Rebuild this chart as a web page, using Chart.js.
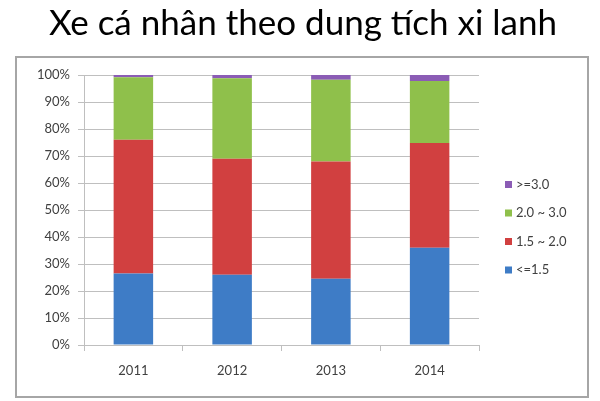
<!DOCTYPE html>
<html>
<head>
<meta charset="utf-8">
<script src="https://cdn.jsdelivr.net/npm/chart.js@4.4.0/dist/chart.umd.min.js"></script>
<style>
  html, body { margin: 0; padding: 0; background: #ffffff; }
  #wrap { width: 600px; height: 401px; position: relative; }
  #title {
    position: absolute; left: 0; top: 0px; width: 606px;
    text-align: center; font-family: Lato, "Open Sans", sans-serif;
    font-size: 35px; line-height: 42px; color: #000000; white-space: nowrap;
  }
  canvas { position: absolute; left: 0; top: 0; }
</style>
</head>
<body>
<div id="wrap"><canvas id="c" width="600" height="401"></canvas><div id="title"></div></div>
<script>
const titleText = 'Xe cá nhân theo dung tích xi lanh';
const categories = ['2011', '2012', '2013', '2014'];
const seriesNames = ['<=1.5', '1.5 ~ 2.0', '2.0 ~ 3.0', '>=3.0'];
const le15 = [26.5, 26.0, 24.5, 36.0];
const from15to20 = [49.5, 43.0, 43.5, 38.8];
const from20to30 = [23.2, 29.8, 30.2, 23.0];
const ge30 = [0.8, 1.2, 1.8, 2.2];
const yTicks = [0, 10, 20, 30, 40, 50, 60, 70, 80, 90, 100];

const colors = ['#3E7CC6', '#D14040', '#8FC04B', '#8B5CB5'];
const textColor = '#404040';
const gridColor = '#BFBFBF';
const fontFamily = 'Lato, "Open Sans", sans-serif';

const seriesValues = [le15, from15to20, from20to30, ge30];
document.getElementById('title').textContent = titleText;

const frameAndLegend = {
  id: 'frameAndLegend',
  beforeDraw(chart) {
    const ctx = chart.ctx;
    ctx.save();
    ctx.fillStyle = '#ffffff';
    ctx.fillRect(0, 0, chart.width, chart.height);
    ctx.strokeStyle = '#A6A6A6';
    ctx.lineWidth = 2;
    ctx.strokeRect(16, 57, 572, 340);
    ctx.restore();
  },
  afterDraw(chart) {
    const ctx = chart.ctx;
    ctx.save();
    ctx.font = '13px ' + fontFamily;
    ctx.textBaseline = 'middle';
    ctx.textAlign = 'left';
    const ds = chart.data.datasets;
    for (let i = 0; i < ds.length; i++) {
      const y = 270 - i * 28.5;
      ctx.fillStyle = ds[i].backgroundColor;
      ctx.fillRect(505, y - 3.5, 7, 7);
      ctx.fillStyle = textColor;
      ctx.fillText(ds[i].label, 516, y);
    }
    ctx.restore();
  }
};

new Chart(document.getElementById('c'), {
  type: 'bar',
  data: {
    labels: categories,
    datasets: seriesNames.map((name, i) => ({
      label: name,
      data: seriesValues[i],
      backgroundColor: colors[i],
      borderWidth: 0,
      categoryPercentage: 1.0,
      barPercentage: 0.4
    }))
  },
  options: {
    responsive: false,
    animation: false,
    devicePixelRatio: 1,
    layout: { padding: { left: 16, right: 121, top: 75, bottom: 6 } },
    plugins: {
      legend: { display: false },
      tooltip: { enabled: false },
      title: { display: false }
    },
    scales: {
      x: {
        stacked: true,
        grid: {
          display: true,
          offset: true,
          drawOnChartArea: false,
          drawTicks: true,
          tickLength: 6,
          color: gridColor
        },
        border: { display: true, color: gridColor, width: 1 },
        ticks: { color: textColor, font: { family: fontFamily, size: 13 }, padding: 12 },
        afterFit(scale) { scale.height = 50; }
      },
      y: {
        stacked: true,
        min: 0,
        max: 100,
        afterBuildTicks(scale) { scale.ticks = yTicks.map(v => ({ value: v })); },
        grid: {
          color: gridColor,
          lineWidth: 1,
          drawTicks: true,
          tickLength: 6
        },
        border: { display: true, color: gridColor, width: 1 },
        ticks: {
          color: textColor,
          font: { family: fontFamily, size: 13 },
          padding: 8,
          callback: v => v + '%'
        },
        afterFit(scale) { scale.width = 68; }
      }
    }
  },
  plugins: [frameAndLegend]
});
</script>
</body>
</html>
